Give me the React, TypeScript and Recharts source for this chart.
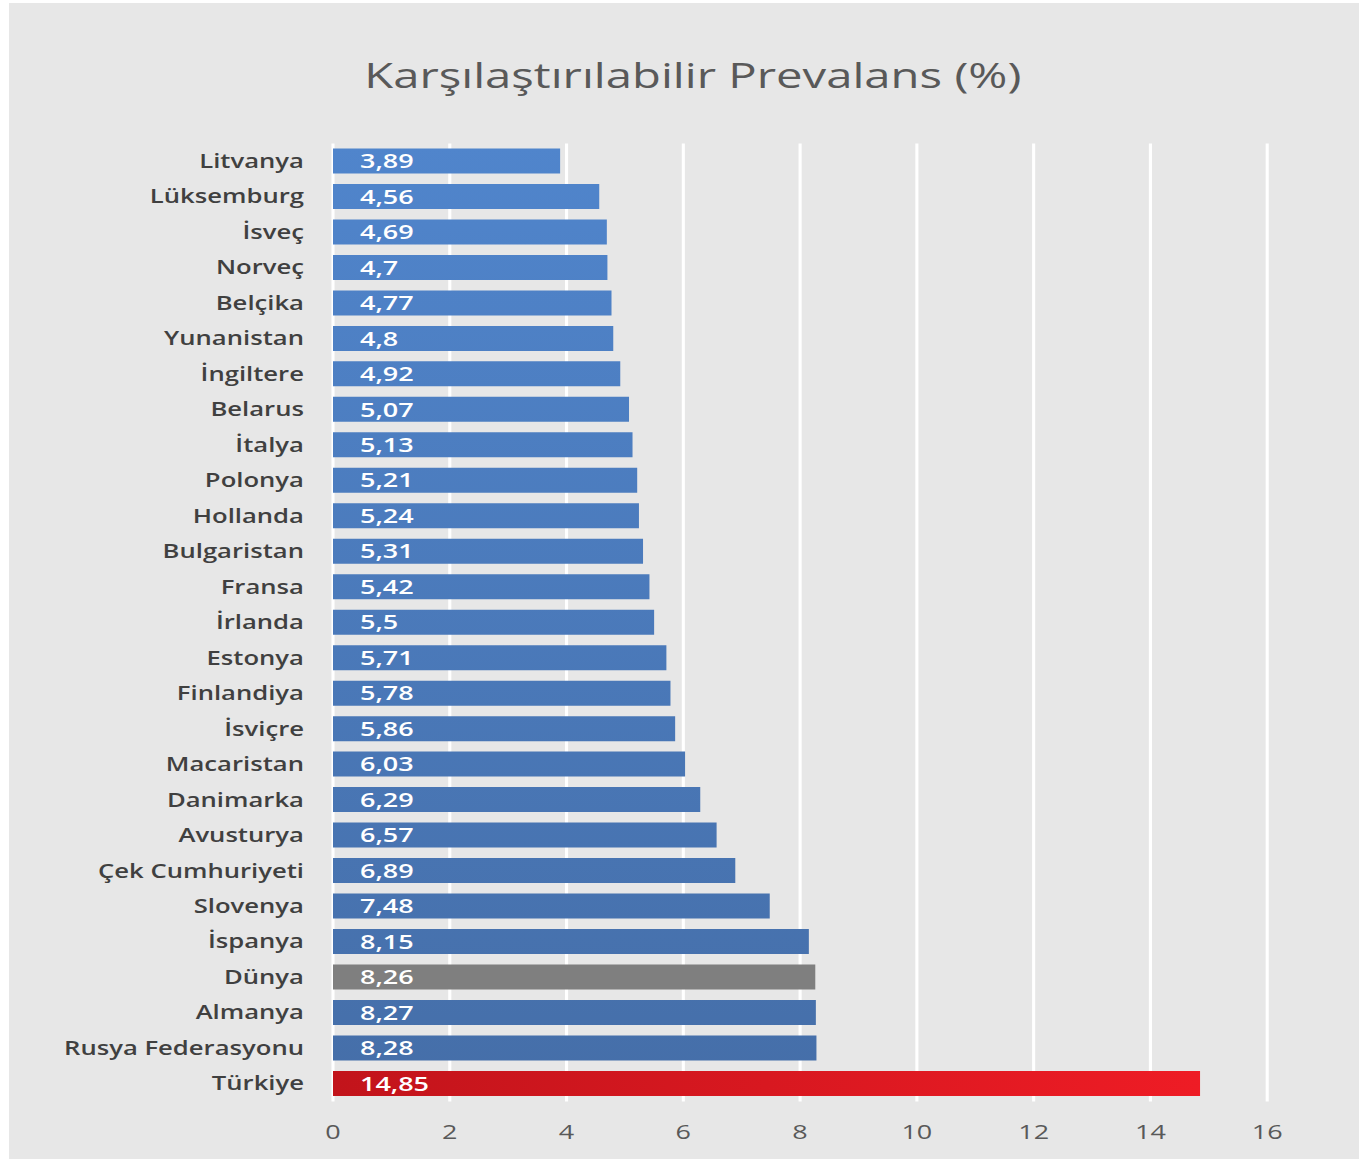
import React from "react";
import { BarChart, Bar, XAxis, YAxis, CartesianGrid, Cell, LabelList } from "recharts";

const countries = [
  "Litvanya", "Lüksemburg", "İsveç", "Norveç", "Belçika", "Yunanistan", "İngiltere",
  "Belarus", "İtalya", "Polonya", "Hollanda", "Bulgaristan", "Fransa", "İrlanda",
  "Estonya", "Finlandiya", "İsviçre", "Macaristan", "Danimarka", "Avusturya",
  "Çek Cumhuriyeti", "Slovenya", "İspanya", "Dünya", "Almanya", "Rusya Federasyonu", "Türkiye",
];
const prevalence = [
  3.89, 4.56, 4.69, 4.7, 4.77, 4.8, 4.92, 5.07, 5.13, 5.21, 5.24, 5.31, 5.42, 5.5,
  5.71, 5.78, 5.86, 6.03, 6.29, 6.57, 6.89, 7.48, 8.15, 8.26, 8.27, 8.28, 14.85,
];
const xTicks = [0, 2, 4, 6, 8, 10, 12, 14, 16];
const title = "Karşılaştırılabilir Prevalans (%)";
const worldName = "Dünya";
const highlightName = "Türkiye";

const data = countries.map((name, i) => ({ name, value: prevalence[i] }));

const FONT = "'Open Sans', 'Noto Sans', sans-serif";
const SCALE_X = 1.35;
const W = 1000;
const H = 1156;

const fmt = (v: number) => String(v).replace(".", ",");

const ValueLabel = (props: any) => {
  const { x, y, height, value } = props;
  return (
    <text
      x={Number(x) + 20}
      y={Number(y) + Number(height) / 2}
      dy="0.36em"
      fill="#ffffff"
      fontSize={20}
      fontWeight={600}
      fontFamily={FONT}
      textAnchor="start"
    >
      {fmt(value)}
    </text>
  );
};

export default function App() {
  return (
    <div
      style={{
        position: "absolute",
        left: 9,
        top: 3,
        width: W,
        height: H,
        background: "#e7e7e7",
        transform: `scaleX(${SCALE_X})`,
        transformOrigin: "0 0",
      }}
    >
      <div
        style={{
          position: "absolute",
          left: 0,
          top: 47,
          width: 1013,
          height: 50,
          lineHeight: "50px",
          textAlign: "center",
          fontFamily: FONT,
          fontSize: 35,
          fontWeight: 500,
          color: "#595959",
        }}
      >
        {title}
      </div>
      <div style={{ position: "absolute", left: 0, top: 0 }}>
        <BarChart
          width={W}
          height={H}
          data={data}
          layout="vertical"
          margin={{ top: 140.5, right: 68, bottom: 27.6, left: 0 }}
        >
          <defs>
            <linearGradient id="blueGrad" gradientUnits="userSpaceOnUse" x1="0" y1="140" x2="0" y2="1100">
              <stop offset="0%" stopColor="#5085cc" />
              <stop offset="100%" stopColor="#456ea8" />
            </linearGradient>
            <linearGradient id="redGrad" x1="0" y1="0" x2="1" y2="0">
              <stop offset="0%" stopColor="#c2141b" />
              <stop offset="100%" stopColor="#ee1c25" />
            </linearGradient>
          </defs>
          <CartesianGrid horizontal={false} vertical={true} stroke="#ffffff" strokeWidth={2.3} />
          <XAxis
            type="number"
            domain={[0, 16]}
            ticks={xTicks}
            axisLine={false}
            tickLine={false}
            tickSize={0}
            tickMargin={23}
            height={30}
            tick={{ fill: "#595959", fontSize: 20, fontFamily: FONT }}
          />
          <YAxis
            type="category"
            dataKey="name"
            width={240}
            axisLine={false}
            tickLine={false}
            tickSize={0}
            tickMargin={21.5}
            interval={0}
            tick={{ fill: "#404040", fontSize: 19, fontWeight: 600, fontFamily: FONT }}
          />
          <Bar dataKey="value" barSize={25} isAnimationActive={false}>
            {data.map((d) => (
              <Cell
                key={d.name}
                fill={
                  d.name === highlightName
                    ? "url(#redGrad)"
                    : d.name === worldName
                    ? "#7f7f7f"
                    : "url(#blueGrad)"
                }
              />
            ))}
            <LabelList dataKey="value" content={ValueLabel} />
          </Bar>
        </BarChart>
      </div>
    </div>
  );
}
